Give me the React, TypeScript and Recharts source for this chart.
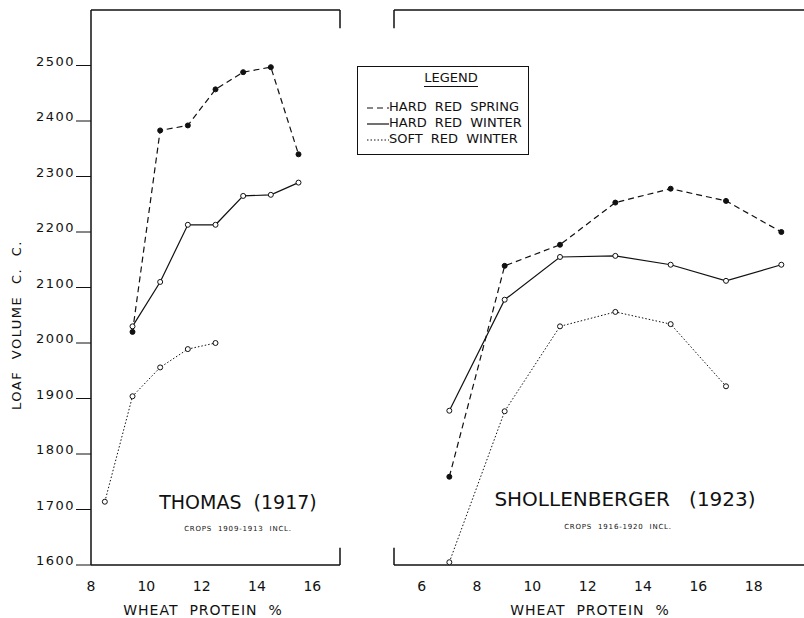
import { LineChart, Line, XAxis, YAxis, ReferenceLine } from 'recharts';

// wheat protein % (x) and loaf volume c.c. (y)
const thomasProtein = [8.5, 9.5, 10.5, 11.5, 12.5, 13.5, 14.5, 15.5];
const thomasSpring = [null, 2020, 2383, 2392, 2457, 2488, 2497, 2340];
const thomasWinter = [null, 2030, 2110, 2213, 2213, 2265, 2267, 2289];
const thomasSoft = [1714, 1904, 1956, 1989, 2000, null, null, null];

const shollProtein = [7, 9, 11, 13, 15, 17, 19];
const shollSpring = [1759, 2139, 2177, 2253, 2278, 2256, 2200];
const shollWinter = [1878, 2078, 2155, 2157, 2141, 2112, 2141];
const shollSoft = [1605, 1877, 2030, 2056, 2034, 1922, null];

const volumeTicks = [1600, 1700, 1800, 1900, 2000, 2100, 2200, 2300, 2400, 2500];
const thomasTicks = [8, 10, 12, 14, 16];
const shollTicks = [6, 8, 10, 12, 14, 16, 18];

const VOLUME_DOMAIN: [number, number] = [1600, 2600];
const THOMAS_DOMAIN: [number, number] = [8, 17];
const SHOLL_DOMAIN: [number, number] = [5, 20];

const FONT = '"DejaVu Sans", sans-serif';
const INK = '#111';

const SERIES = [
  { key: 'spring', name: 'HARD RED SPRING', dash: '6 4', width: 1.2, fill: INK },
  { key: 'winter', name: 'HARD RED WINTER', dash: undefined, width: 1.2, fill: '#fff' },
  { key: 'soft', name: 'SOFT RED WINTER', dash: '1.5 2', width: 1, fill: '#fff' },
];

const thomasData = thomasProtein.map((p, i) => ({
  protein: p,
  spring: thomasSpring[i],
  winter: thomasWinter[i],
  soft: thomasSoft[i],
}));

const shollData = shollProtein.map((p, i) => ({
  protein: p,
  spring: shollSpring[i],
  winter: shollWinter[i],
  soft: shollSoft[i],
}));

function YTick({ x, y, payload }: any) {
  return (
    <text x={x} y={y} textAnchor="end" fontSize={13} letterSpacing={1.5} fontFamily={FONT} fill={INK}>
      {payload.value}
    </text>
  );
}

function XTick({ x, y, payload }: any) {
  return (
    <text x={x} y={y + 26} textAnchor="middle" fontSize={14} fontFamily={FONT} fill={INK}>
      {payload.value}
    </text>
  );
}

function seriesLines() {
  return SERIES.map((s) => (
    <Line
      key={s.key}
      dataKey={s.key}
      name={s.name}
      type="linear"
      stroke={INK}
      strokeWidth={s.width}
      strokeDasharray={s.dash}
      dot={{ r: 2.5, fill: s.fill, stroke: INK, strokeWidth: 1, strokeDasharray: 'none' }}
      activeDot={false}
      isAnimationActive={false}
    />
  ));
}

const frame = { stroke: INK, strokeWidth: 1.5, ifOverflow: 'visible' as const };

function LegendBox() {
  return (
    <div
      style={{
        position: 'absolute',
        left: 357,
        top: 66,
        width: 170,
        height: 87,
        border: `1.5px solid ${INK}`,
        fontFamily: FONT,
        fontSize: 13,
        color: INK,
      }}
    >
      <div style={{ textAlign: 'center', marginTop: 3, marginLeft: 16 }}>
        <span style={{ borderBottom: `1.5px solid ${INK}`, paddingBottom: 1 }}>LEGEND</span>
      </div>
      <div style={{ marginTop: 14, marginLeft: 9, lineHeight: '16px' }}>
        {SERIES.map((s) => (
          <div key={s.key} style={{ display: 'flex', alignItems: 'center', whiteSpace: 'nowrap' }}>
            <svg width={22} height={10}>
              <line x1={0} y1={6} x2={22} y2={6} stroke={INK} strokeWidth={s.width} strokeDasharray={s.dash} />
            </svg>
            <span style={{ wordSpacing: 4 }}>{s.name}</span>
          </div>
        ))}
      </div>
    </div>
  );
}

function Caption({ x, y, size, text, spacing = 0 }: { x: number; y: number; size: number; text: string; spacing?: number }) {
  return (
    <div
      style={{
        position: 'absolute',
        left: x - 200,
        top: y - size / 2,
        width: 400,
        height: size,
        textAlign: 'center',
        fontFamily: FONT,
        fontSize: size,
        letterSpacing: spacing,
        lineHeight: `${size}px`,
        color: INK,
        whiteSpace: 'pre',
      }}
    >
      {text}
    </div>
  );
}

export default function App() {
  return (
    <div style={{ position: 'absolute', left: 0, top: 0, width: 804, height: 618, overflow: 'hidden', background: '#fff' }}>
      <div style={{ position: 'absolute', left: 0, top: 0 }}>
        <LineChart width={360} height={618} data={thomasData} margin={{ top: 10, right: 20, bottom: 23, left: 0 }}>
          <XAxis
            dataKey="protein"
            type="number"
            domain={THOMAS_DOMAIN}
            ticks={thomasTicks}
            height={30}
            tickSize={0}
            tickMargin={0}
            tick={<XTick />}
            axisLine={{ stroke: INK, strokeWidth: 1.5 }}
            tickLine={false}
          />
          <YAxis
            type="number"
            domain={VOLUME_DOMAIN}
            ticks={volumeTicks}
            width={91}
            tickSize={15}
            tickMargin={1}
            tick={<YTick />}
            axisLine={{ stroke: INK, strokeWidth: 1.5 }}
            tickLine={{ stroke: INK, strokeWidth: 1 }}
          />
          <ReferenceLine segment={[{ x: 8, y: 2600 }, { x: 17, y: 2600 }]} {...frame} />
          <ReferenceLine segment={[{ x: 17, y: 2600 }, { x: 17, y: 2567 }]} {...frame} />
          <ReferenceLine segment={[{ x: 17, y: 1600 }, { x: 17, y: 1631 }]} {...frame} />
          {seriesLines()}
        </LineChart>
      </div>

      <div style={{ position: 'absolute', left: 380, top: 0 }}>
        <LineChart width={440} height={618} data={shollData} margin={{ top: 10, right: 11, bottom: 23, left: 14 }}>
          <XAxis
            dataKey="protein"
            type="number"
            domain={SHOLL_DOMAIN}
            ticks={shollTicks}
            height={30}
            tickSize={0}
            tickMargin={0}
            tick={<XTick />}
            axisLine={{ stroke: INK, strokeWidth: 1.5 }}
            tickLine={false}
          />
          <YAxis type="number" domain={VOLUME_DOMAIN} hide />
          <ReferenceLine segment={[{ x: 5, y: 2600 }, { x: 20, y: 2600 }]} {...frame} />
          <ReferenceLine segment={[{ x: 5, y: 2600 }, { x: 5, y: 2567 }]} {...frame} />
          <ReferenceLine segment={[{ x: 5, y: 1600 }, { x: 5, y: 1631 }]} {...frame} />
          {seriesLines()}
        </LineChart>
      </div>

      <LegendBox />

      <div
        style={{
          position: 'absolute',
          left: 16,
          top: 325,
          transform: 'translate(-50%, -50%) rotate(-90deg)',
          fontFamily: FONT,
          fontSize: 13,
          letterSpacing: 1.5,
          wordSpacing: 6,
          color: INK,
          whiteSpace: 'nowrap',
        }}
      >
        LOAF VOLUME C. C.
      </div>

      <Caption x={238} y={502} size={19} text="THOMAS  (1917)" />
      <Caption x={238} y={529} size={7} spacing={0.8} text="CROPS  1909-1913  INCL." />
      <Caption x={625} y={499} size={20} text="SHOLLENBERGER   (1923)" />
      <Caption x={618} y={527} size={7} spacing={0.8} text="CROPS  1916-1920  INCL." />
      <Caption x={203} y={610} size={14} spacing={1} text="WHEAT  PROTEIN  %" />
      <Caption x={590} y={610} size={14} spacing={1} text="WHEAT  PROTEIN  %" />
    </div>
  );
}
